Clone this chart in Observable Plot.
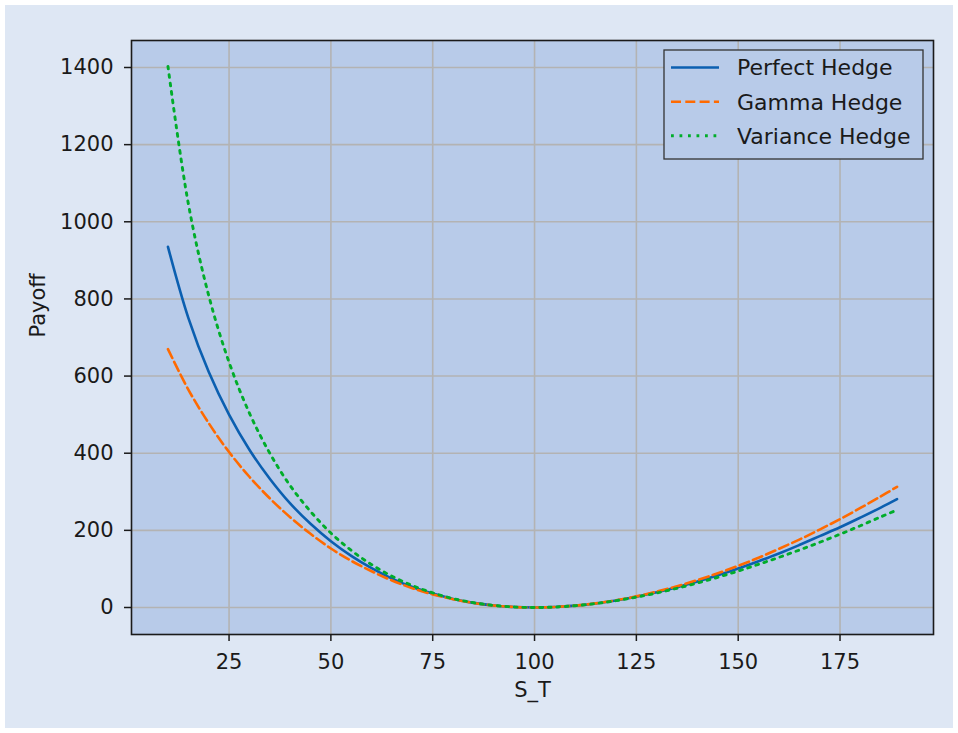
<!DOCTYPE html>
<html>
<head>
<meta charset="utf-8">
<script src="https://cdn.jsdelivr.net/npm/d3@7"></script>
<script src="https://cdn.jsdelivr.net/npm/@observablehq/plot@0.6"></script>
<style>
  html, body { margin: 0; padding: 0; background: #ffffff; }
  #wrap { position: relative; width: 958px; height: 733px; }
  #wrap svg.plot { display: block; background: #dee7f4; box-shadow: inset 0 0 0 5px #ffffff; }
  #legend { position: absolute; left: 0; top: 0; pointer-events: none; }
</style>
</head>
<body>
<div id="wrap"></div>
<script>
// ---- data ----
const S = [10, 15, 20, 25, 30, 35, 40, 45, 50, 55, 60, 65, 70, 75, 80, 85, 90, 95, 100,
           105, 110, 115, 120, 125, 130, 135, 140, 145, 150, 155, 160, 165, 170, 175, 180, 185, 189];
const perfectHedge = [935, 751, 611, 500, 409, 334, 270, 217, 172, 134, 102, 75, 53, 36, 22, 12, 5.3, 1.3, 0,
           1.2, 4.8, 10.5, 18.2, 27.9, 39.3, 52.4, 67.1, 83.4, 101, 120, 140, 162, 185, 208, 233, 259, 281];
const gammaHedge = [670, 565, 478, 403, 339, 283, 234, 191, 153, 121, 94, 70, 50, 34, 21.5, 11.9, 5.2, 1.3, 0,
           1.2, 4.8, 10.7, 18.8, 28.9, 41.1, 55.1, 71.1, 88.8, 108, 129, 152, 176, 202, 229, 258, 288, 313];
const varianceHedge = [1403, 1047, 809, 636, 504, 400, 316, 249, 193, 148, 111, 81, 57, 38, 23.1, 12.5, 5.4, 1.3, 0,
           1.2, 4.7, 10.2, 17.7, 26.9, 37.6, 49.9, 63.5, 78.4, 94.5, 112, 130, 149, 169, 190, 212, 235, 253];
const xTicks = [25, 50, 75, 100, 125, 150, 175];
const yTicks = [0, 200, 400, 600, 800, 1000, 1200, 1400];
const seriesNames = ["Perfect Hedge", "Gamma Hedge", "Variance Hedge"];
const seriesColors = ["#0b5fb0", "#ff6a00", "#00ad2a"];
const seriesDash = [null, "10,4.3", "2.8,5.7"];
const xLabel = "S_T";
const yLabel = "Payoff";

const seriesValues = [perfectHedge, gammaHedge, varianceHedge];
const lineMarks = seriesValues.map((vals, k) =>
  Plot.line(S, {
    x: d => d,
    y: (d, i) => vals[i],
    stroke: seriesColors[k],
    strokeWidth: k === 2 ? 2.9 : 2.6,
    strokeDasharray: seriesDash[k] || undefined,
    curve: "catmull-rom"
  })
);

const font = "'DejaVu Sans', 'Liberation Sans', sans-serif";

const chart = Plot.plot({
  width: 958,
  height: 733,
  marginLeft: 131,
  marginRight: 25,
  marginTop: 40,
  marginBottom: 99,
  style: { background: "#dee7f4", fontFamily: font, fontSize: "21px", color: "#1a1a1a", overflow: "visible" },
  x: { domain: [1.05, 197.95] },
  y: { domain: [-70, 1470] },
  marks: [
    Plot.frame({ fill: "#b8cbe9", stroke: "none" }),
    Plot.gridX({ ticks: xTicks, stroke: "#b3b3b3", strokeOpacity: 1, strokeWidth: 1.6 }),
    Plot.gridY({ ticks: yTicks, stroke: "#b3b3b3", strokeOpacity: 1, strokeWidth: 1.6 }),
    ...lineMarks,
    Plot.frame({ stroke: "#1a1a1a", strokeWidth: 1.6 }),
    Plot.axisX({ ticks: xTicks, tickFormat: d => String(d), tickSize: 7, tickPadding: 13, strokeWidth: 1.5, label: null, fontSize: 21 }),
    Plot.axisY({ ticks: yTicks, tickFormat: d => String(d), tickSize: 7, tickPadding: 11, strokeWidth: 1.5, label: null, fontSize: 21 }),
    Plot.text([xLabel], { frameAnchor: "bottom", lineAnchor: "middle", dy: 56, fontSize: 21, fill: "#1a1a1a" }),
    Plot.text([yLabel], { frameAnchor: "left", lineAnchor: "middle", dx: -93, rotate: -90, fontSize: 21, fill: "#1a1a1a" })
  ]
});
chart.classList.add("plot");
document.getElementById("wrap").appendChild(chart);

// ---- legend overlay (inside the plot area, upper right) ----
const lg = d3.select("#wrap").append("svg")
  .attr("id", "legend").attr("width", 958).attr("height", 733);
lg.append("rect")
  .attr("x", 664).attr("y", 50).attr("width", 259).attr("height", 109)
  .attr("fill", "#b8cbe9").attr("stroke", "#333333").attr("stroke-width", 1.3);
const rowY = [67.5, 101.7, 135.7];
seriesNames.forEach((name, k) => {
  lg.append("line")
    .attr("x1", 671).attr("x2", 719).attr("y1", rowY[k]).attr("y2", rowY[k])
    .attr("stroke", seriesColors[k]).attr("stroke-width", k === 2 ? 2.9 : 2.6)
    .attr("stroke-dasharray", seriesDash[k] || null);
  lg.append("text")
    .attr("x", 737).attr("y", rowY[k]).attr("dy", "0.36em")
    .attr("font-family", font).attr("font-size", 22).attr("fill", "#1a1a1a")
    .text(name);
});
</script>
</body>
</html>
